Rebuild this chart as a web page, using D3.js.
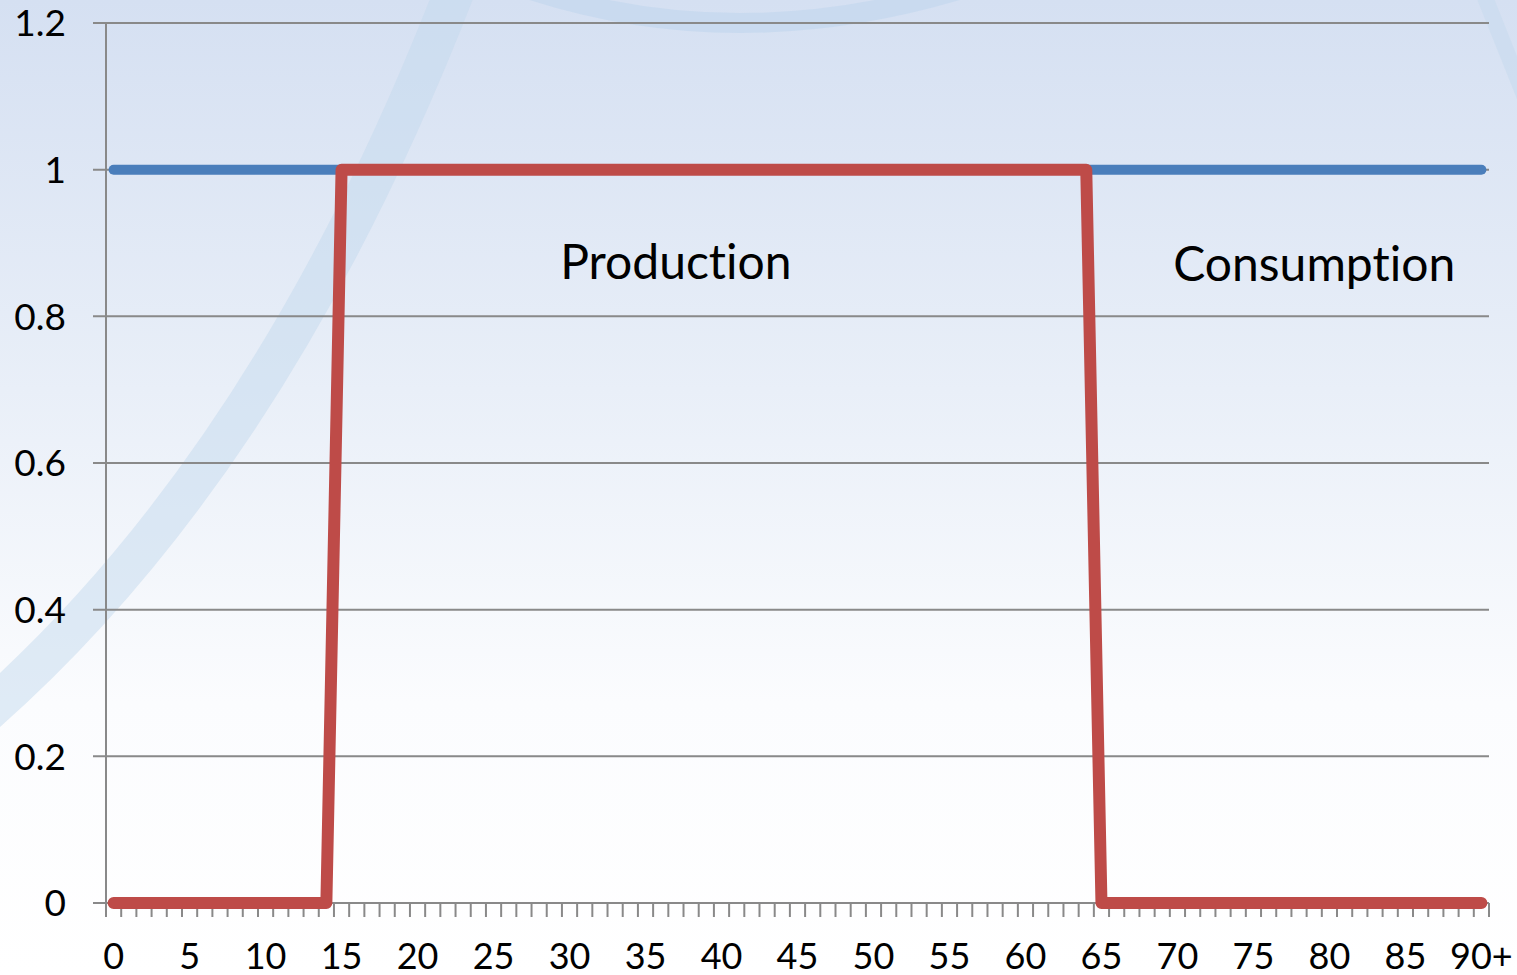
<!DOCTYPE html>
<html>
<head>
<meta charset="utf-8">
<script src="https://cdn.jsdelivr.net/npm/d3@7"></script>
<style>
  html, body { margin: 0; padding: 0; background: #fff; overflow: hidden; }
  svg { display: block; font-family: Lato, "Open Sans", sans-serif; font-variant-ligatures: none; }
</style>
</head>
<body>
<svg id="svg" width="1517" height="975"></svg>
<script>
// categories: ages 0 .. 89, then 90+
var ages = d3.range(0, 90).map(String).concat(["90+"]);
var xTickLabels = ["0","5","10","15","20","25","30","35","40","45","50","55","60","65","70","75","80","85","90+"];
var yTicks = [0, 0.2, 0.4, 0.6, 0.8, 1, 1.2];

// consumption: 1 at every age
var consumption = [1,1,1,1,1,1,1,1,1,1, 1,1,1,1,1,1,1,1,1,1,
                   1,1,1,1,1,1,1,1,1,1, 1,1,1,1,1,1,1,1,1,1,
                   1,1,1,1,1,1,1,1,1,1, 1,1,1,1,1,1,1,1,1,1,
                   1,1,1,1,1,1,1,1,1,1, 1,1,1,1,1,1,1,1,1,1,
                   1,1,1,1,1,1,1,1,1,1, 1];
// production: 1 from 15 to 64
var production = [0,0,0,0,0,0,0,0,0,0, 0,0,0,0,0,1,1,1,1,1,
                  1,1,1,1,1,1,1,1,1,1, 1,1,1,1,1,1,1,1,1,1,
                  1,1,1,1,1,1,1,1,1,1, 1,1,1,1,1,1,1,1,1,1,
                  1,1,1,1,1,0,0,0,0,0, 0,0,0,0,0,0,0,0,0,0,
                  0,0,0,0,0,0,0,0,0,0, 0];

var labelNames = ["Production", "Consumption"];
var labelAge = ["37", "79"];
var labelValue = [0.851, 0.848];

var svg = d3.select("#svg");
var W = 1517, H = 975;
var mLeft = 106, mRight = 1489, mTop = 23, mBottom = 903;

// background gradient + swooshes
var defs = svg.append("defs");
var grad = defs.append("linearGradient")
    .attr("id", "bg").attr("x1", 0).attr("y1", 0).attr("x2", 0).attr("y2", 1);
grad.append("stop").attr("offset", "0%").attr("stop-color", "#d5e0f2");
grad.append("stop").attr("offset", "40%").attr("stop-color", "#e9eff8");
grad.append("stop").attr("offset", "72%").attr("stop-color", "#fbfcfe");
grad.append("stop").attr("offset", "100%").attr("stop-color", "#ffffff");
svg.append("rect").attr("width", W).attr("height", H).attr("fill", "url(#bg)");

var swoosh = svg.append("g").attr("fill", "none").attr("stroke-linecap", "butt");
swoosh.append("path")
    .attr("d", "M -40,735 Q 265,480 455,-10")
    .attr("stroke", "#c4d9ee").attr("stroke-opacity", 0.5).attr("stroke-width", 40);
swoosh.append("path")
    .attr("d", "M 525,-12 Q 735,58 965,-12")
    .attr("stroke", "#c3d7ee").attr("stroke-opacity", 0.7).attr("stroke-width", 20);
swoosh.append("path")
    .attr("d", "M 1482,-10 Q 1502,40 1530,110")
    .attr("stroke", "#c8dbef").attr("stroke-opacity", 0.6).attr("stroke-width", 16);

var x = d3.scaleBand().domain(ages).range([mLeft, mRight]).paddingInner(0).paddingOuter(0);
var y = d3.scaleLinear().domain([0, 1.2]).range([mBottom, mTop]);
var cx = function(a) { return x(a) + x.bandwidth() / 2; };

// gridlines
svg.append("g")
    .selectAll("line")
    .data(yTicks)
    .join("line")
    .attr("x1", mLeft - 13).attr("x2", mRight)
    .attr("y1", function(d) { return y(d); })
    .attr("y2", function(d) { return y(d); })
    .attr("stroke", "#898989").attr("stroke-width", 2);

// y axis line
svg.append("line")
    .attr("x1", mLeft).attr("x2", mLeft)
    .attr("y1", mTop).attr("y2", mBottom)
    .attr("stroke", "#898989").attr("stroke-width", 2);

// y labels
svg.append("g")
    .selectAll("text")
    .data(yTicks)
    .join("text")
    .attr("x", 66)
    .attr("y", function(d) { return y(d); })
    .attr("dy", "0.36em")
    .attr("text-anchor", "end")
    .attr("font-size", 37)
    .attr("fill", "#000")
    .text(function(d) { return d3.format("")(d); });

// x ticks at category boundaries
var bounds = ages.map(function(a) { return x(a); }).concat([mRight]);
svg.append("g")
    .selectAll("line")
    .data(bounds)
    .join("line")
    .attr("x1", function(d) { return d; }).attr("x2", function(d) { return d; })
    .attr("y1", mBottom).attr("y2", mBottom + 14)
    .attr("stroke", "#898989").attr("stroke-width", 2);

// x labels
svg.append("g")
    .selectAll("text")
    .data(xTickLabels)
    .join("text")
    .attr("x", function(d) { return cx(d); })
    .attr("y", 969)
    .attr("text-anchor", "middle")
    .attr("font-size", 36)
    .attr("fill", "#000")
    .text(function(d) { return d; });

var line = d3.line()
    .x(function(d, i) { return cx(ages[i]); })
    .y(function(d) { return y(d); });

svg.append("path")
    .datum(consumption)
    .attr("d", line)
    .attr("fill", "none")
    .attr("stroke", "#4a7ebb")
    .attr("stroke-width", 10)
    .attr("stroke-linecap", "round")
    .attr("stroke-linejoin", "round");

svg.append("path")
    .datum(production)
    .attr("d", line)
    .attr("fill", "none")
    .attr("stroke", "#be4b48")
    .attr("stroke-width", 12)
    .attr("stroke-linecap", "round")
    .attr("stroke-linejoin", "round");

// annotations
svg.append("g")
    .selectAll("text")
    .data(labelNames)
    .join("text")
    .attr("x", function(d, i) { return cx(labelAge[i]); })
    .attr("y", function(d, i) { return y(labelValue[i]); })
    .attr("text-anchor", "middle")
    .attr("font-size", 48)
    .attr("fill", "#000")
    .text(function(d) { return d; });
</script>
</body>
</html>
